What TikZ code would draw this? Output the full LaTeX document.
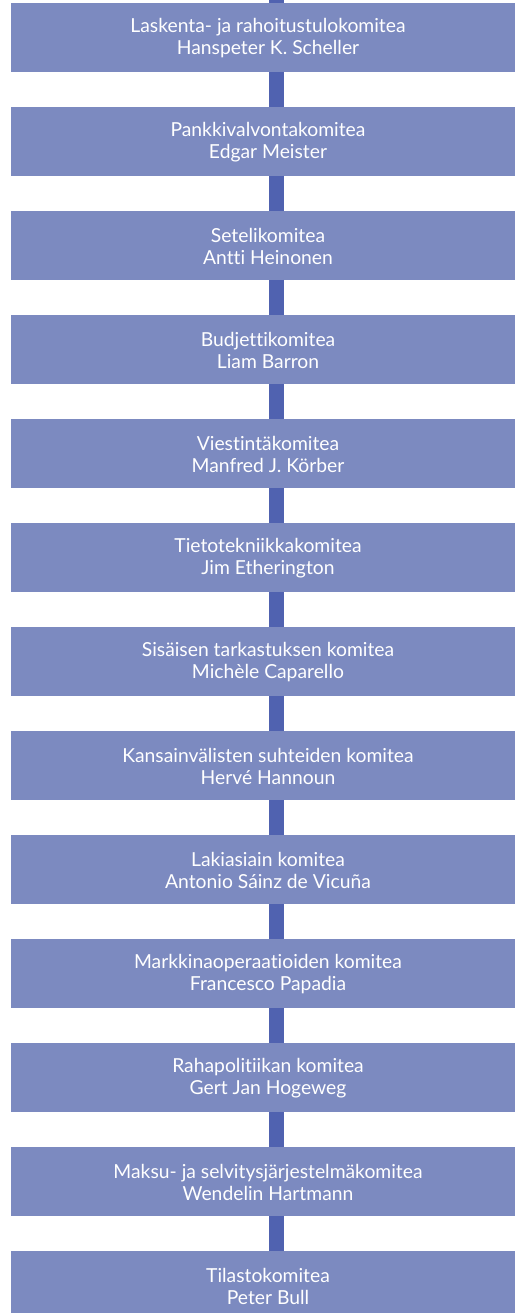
\documentclass[tikz,border=0pt]{standalone}
\usepackage{fontspec}
\setmainfont{Lato}[Ligatures=NoCommon]
\definecolor{boxfill}{RGB}{124,138,192}
\definecolor{linkcol}{RGB}{80,98,176}
\begin{document}
\begin{tikzpicture}[x=1pt,y=1pt,
  unitbox/.style={fill=boxfill, draw=none, minimum width=504pt, minimum height=69pt, inner sep=0pt, outer sep=0pt},
  unittext/.style={text=white, align=center, font=\fontsize{19.3}{22}\selectfont, inner sep=0pt},
  link/.style={draw=linkcol, line width=15.5pt}]
\useasboundingbox (0,0) rectangle (515,-1313);
\clip (0,0) rectangle (515,-1313);
\foreach \i/\t in {
  1/{Laskenta- ja rahoitustulokomitea\\Hanspeter K. Scheller},
  2/{Pankkivalvontakomitea\\Edgar Meister},
  3/{Setelikomitea\\Antti Heinonen},
  4/{Budjettikomitea\\Liam Barron},
  5/{Viestintäkomitea\\Manfred J. Körber},
  6/{Tietotekniikkakomitea\\Jim Etherington},
  7/{Sisäisen tarkastuksen komitea\\Michèle Caparello},
  8/{Kansainvälisten suhteiden komitea\\Hervé Hannoun},
  9/{Lakiasiain komitea\\Antonio Sáinz de Vicuña},
  10/{Markkinaoperaatioiden komitea\\Francesco Papadia},
  11/{Rahapolitiikan komitea\\Gert Jan Hogeweg},
  12/{Maksu- ja selvitysjärjestelmäkomitea\\Wendelin Hartmann},
  13/{Tilastokomitea\\Peter Bull}} {
  \node[unitbox] (b\i) at (263,{-37.5-104*(\i-1)}) {};
  \node[unittext] (t\i) at ([xshift=5pt,yshift=-1pt]b\i.center) {\t};
}
\coordinate (top) at ([xshift=13.3pt]b1.north |- 0,0);
\draw[link] (top) -- ([xshift=13.3pt]b1.north);
\foreach \i [evaluate=\i as \j using int(\i+1)] in {1,...,12} {
  \draw[link] ([xshift=13.3pt]b\i.south) -- ([xshift=13.3pt]b\j.north);
}
\end{tikzpicture}
\end{document}
